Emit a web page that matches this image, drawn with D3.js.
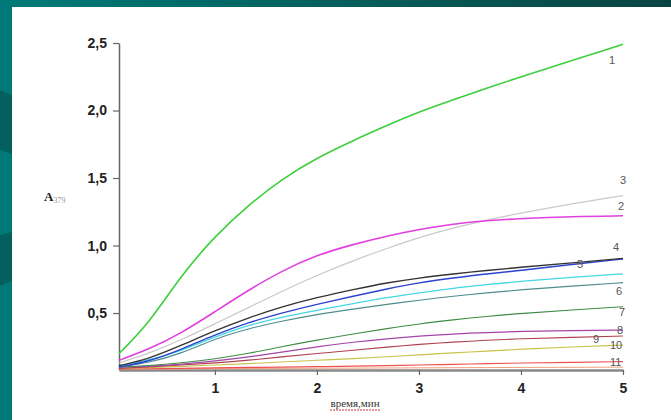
<!DOCTYPE html>
<html>
<head>
<meta charset="utf-8">
<script src="https://cdn.jsdelivr.net/npm/d3@7"></script>
<style>
  html, body { margin: 0; padding: 0; background: #fff; }
  svg { display: block; }
</style>
</head>
<body>
<svg id="chart"></svg>
<script>
// time points (min)
const times = [0.06, 0.35, 0.67, 1.0, 1.33, 1.65, 2.0, 2.36, 2.69, 3.0, 3.34, 3.66, 4.0, 4.5, 5.0];

// absorbance curves
const s1  = [0.20, 0.42, 0.78, 1.07, 1.30, 1.49, 1.65, 1.78, 1.89, 1.99, 2.08, 2.165, 2.25, 2.37, 2.49];
const s2  = [0.15, 0.23, 0.35, 0.51, 0.67, 0.81, 0.93, 1.01, 1.07, 1.12, 1.16, 1.185, 1.20, 1.215, 1.22];
const s3  = [0.13, 0.20, 0.30, 0.42, 0.54, 0.66, 0.78, 0.89, 0.98, 1.06, 1.13, 1.19, 1.24, 1.31, 1.37];
const s4  = [0.11, 0.16, 0.26, 0.37, 0.465, 0.545, 0.615, 0.675, 0.725, 0.76, 0.79, 0.815, 0.84, 0.87, 0.905];
const s5  = [0.10, 0.14, 0.23, 0.34, 0.43, 0.50, 0.565, 0.625, 0.68, 0.725, 0.76, 0.79, 0.815, 0.86, 0.90];
const sC  = [0.11, 0.15, 0.22, 0.325, 0.41, 0.47, 0.52, 0.57, 0.615, 0.65, 0.685, 0.71, 0.735, 0.765, 0.79];
const s6  = [0.10, 0.13, 0.20, 0.31, 0.385, 0.44, 0.49, 0.53, 0.565, 0.595, 0.625, 0.65, 0.672, 0.70, 0.725];
const s7  = [0.10, 0.11, 0.13, 0.16, 0.20, 0.25, 0.30, 0.345, 0.385, 0.42, 0.45, 0.475, 0.497, 0.522, 0.547];
const s8  = [0.10, 0.105, 0.12, 0.145, 0.175, 0.21, 0.25, 0.285, 0.31, 0.33, 0.345, 0.356, 0.364, 0.37, 0.374];
const s9  = [0.09, 0.10, 0.115, 0.13, 0.15, 0.175, 0.20, 0.225, 0.248, 0.268, 0.285, 0.298, 0.31, 0.32, 0.33];
const s10 = [0.09, 0.095, 0.105, 0.115, 0.125, 0.137, 0.15, 0.162, 0.176, 0.19, 0.205, 0.218, 0.232, 0.248, 0.263];
const s11 = [0.085, 0.087, 0.09, 0.093, 0.097, 0.10, 0.102, 0.106, 0.11, 0.115, 0.12, 0.125, 0.13, 0.135, 0.14];
const sO  = [0.085, 0.086, 0.087, 0.088, 0.089, 0.09, 0.091, 0.092, 0.093, 0.094, 0.095, 0.096, 0.097, 0.098, 0.099];

const yTicks = [0.5, 1.0, 1.5, 2.0, 2.5];
const xTicks = [1, 2, 3, 4, 5];

const series = [
  { name: "1",  values: s1,  color: "#3ccf3c", w: 1.6 },
  { name: "",   values: sO,  color: "#f0a080", w: 1.0 },
  { name: "11", values: s11, color: "#ee5050", w: 1.2 },
  { name: "10", values: s10, color: "#c9c24a", w: 1.1 },
  { name: "9",  values: s9,  color: "#b0404e", w: 1.1 },
  { name: "8",  values: s8,  color: "#a544a8", w: 1.2 },
  { name: "7",  values: s7,  color: "#3f8d45", w: 1.1 },
  { name: "6",  values: s6,  color: "#4e8c8c", w: 1.1 },
  { name: "",   values: sC,  color: "#45d6e6", w: 1.3 },
  { name: "5",  values: s5,  color: "#2b43d0", w: 1.4 },
  { name: "4",  values: s4,  color: "#333333", w: 1.3 },
  { name: "3",  values: s3,  color: "#c9c9c9", w: 1.2 },
  { name: "2",  values: s2,  color: "#e040e0", w: 1.6 }
];

// label positions next to each curve end (offset from the line end)
const labelPos = {
  "1": [-14, 20], "2": [-5, -6], "3": [-3, -12], "4": [-10, -7], "5": [-46, 9],
  "6": [-7, 12], "7": [-4, 9], "8": [-6, 4], "9": [-30, 7], "10": [-13, 4], "11": [-13, 4]
};

const W = 671, H = 420;
const svg = d3.select("#chart").attr("width", W).attr("height", H);

// teal frame
const grad = svg.append("defs").append("linearGradient").attr("id", "topbar");
grad.append("stop").attr("offset", "0%").attr("stop-color", "#007b78");
grad.append("stop").attr("offset", "100%").attr("stop-color", "#0a4442");
svg.append("rect").attr("width", W).attr("height", H).attr("fill", "#fff");
svg.append("rect").attr("width", W).attr("height", 7).attr("fill", "url(#topbar)");
svg.append("rect").attr("width", 12).attr("height", H).attr("fill", "#007a78");
svg.append("path").attr("d", "M0,90 L12,95 L12,154 L0,150 Z").attr("fill", "#03605e");
svg.append("path").attr("d", "M0,235 L12,232 L12,281 L0,286 Z").attr("fill", "#03605e");

// scales
const x = d3.scaleLinear().domain([0.06, 5]).range([119, 623]);
const y = d3.scaleLinear().domain([0.078, 2.5]).range([370, 43]);

const comma = v => d3.format(".1f")(v).replace(".", ",");

// axes
const gy = svg.append("g").attr("transform", "translate(119,0)")
  .call(d3.axisLeft(y).tickValues(yTicks).tickFormat(comma).tickSize(6).tickSizeOuter(0).tickPadding(6));
const gx = svg.append("g").attr("transform", "translate(0,370)")
  .call(d3.axisBottom(x).tickValues(xTicks).tickFormat(d3.format("d")).tickSize(5).tickSizeOuter(0).tickPadding(8));

[gy, gx].forEach(g => {
  g.select(".domain").attr("stroke", "#666").attr("stroke-width", 1.5);
  g.selectAll(".tick line").attr("stroke", "#666").attr("stroke-width", 1.2);
  g.selectAll(".tick text")
    .attr("fill", "#222")
    .style("font-family", "'Liberation Sans', Arial, sans-serif")
    .style("font-size", "14px")
    .style("font-weight", "bold");
});
gx.select(".domain").attr("stroke", "#888").attr("stroke-width", 2.5);

// curves
const line = d3.line()
  .x((d, i) => x(times[i]))
  .y(d => y(d))
  .curve(d3.curveBasis);

svg.append("g").selectAll("path").data(series).join("path")
  .attr("d", d => line(d.values))
  .attr("fill", "none")
  .attr("stroke", d => d.color)
  .attr("stroke-width", d => d.w);

// curve numbers
svg.append("g").selectAll("text").data(series.filter(d => d.name)).join("text")
  .attr("x", d => x(5) + labelPos[d.name][0])
  .attr("y", d => y(d.values[d.values.length - 1]) + labelPos[d.name][1])
  .attr("text-anchor", "start")
  .attr("fill", "#555")
  .style("font-family", "'Liberation Sans', Arial, sans-serif")
  .style("font-size", "11px")
  .text(d => d.name);

// y axis title
const yt = svg.append("text").attr("x", 44).attr("y", 201)
  .style("font-family", "'Liberation Serif', 'Times New Roman', serif")
  .style("font-size", "13px").style("font-weight", "bold").attr("fill", "#222");
yt.append("tspan").text("A");
yt.append("tspan").attr("dy", 2).style("font-size", "8px").style("font-weight", "normal")
  .attr("fill", "#999").text("379");

// x axis title
svg.append("text").attr("x", 355).attr("y", 407).attr("text-anchor", "middle")
  .style("font-family", "'Liberation Serif', 'Times New Roman', serif")
  .style("font-size", "11px").attr("fill", "#333")
  .text("время,мин");
svg.append("line").attr("x1", 330).attr("x2", 381).attr("y1", 410).attr("y2", 410)
  .attr("stroke", "#d03030").attr("stroke-width", 1.2).attr("stroke-dasharray", "2,1");
</script>
</body>
</html>
